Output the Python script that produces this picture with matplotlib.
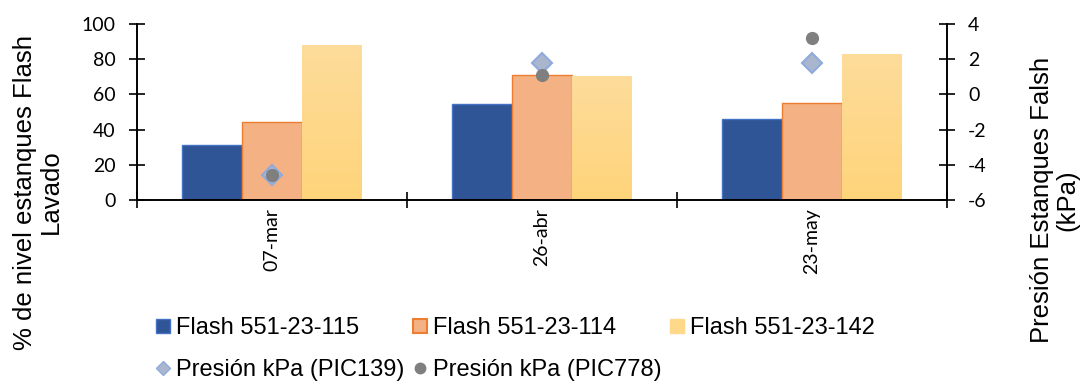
import numpy as np
import matplotlib
matplotlib.use("Agg")
import matplotlib.pyplot as plt
from matplotlib.lines import Line2D
from matplotlib.colors import LinearSegmentedColormap

plt.rcParams["axes.unicode_minus"] = False

# Data
fechas = ["07-mar", "26-abr", "23-may"]
flash_115 = [31, 54.5, 46]
flash_114 = [44.5, 71, 55]
flash_142 = [88, 70.5, 83]
pic139 = [-4.6, 1.8, 1.8]
pic778 = [-4.6, 1.1, 3.2]

series_names = ["Flash 551-23-115", "Flash 551-23-114", "Flash 551-23-142"]
pressure_names = ["Presión kPa (PIC139)", "Presión kPa (PIC778)"]

BLUE = "#2F5597"
BLUE_EDGE = "#4472C4"
ORANGE = "#F4B183"
ORANGE_EDGE = "#ED7D31"
YELLOW_TOP = "#FDDC9B"
YELLOW_BOT = "#FFD47A"
DIAMOND_FACE = "#A9B6CE"
DIAMOND_EDGE = "#8FAADC"
GREY = "#7F7F7F"

TICK_FONT = "Lato"
TEXT_FONT = "Liberation Sans"

W, H = 1083, 381
fig = plt.figure(figsize=(W / 100, H / 100), dpi=100)
ax = fig.add_axes([137 / W, 1 - 200 / H, (946.7 - 137) / W, 176 / H])
ax2 = ax.twinx()

x = np.arange(len(fechas))
w = 0.222
b1 = ax.bar(x - w, flash_115, w, color=BLUE, edgecolor=BLUE_EDGE, linewidth=1.0, zorder=2)
b2 = ax.bar(x, flash_114, w, color=ORANGE, edgecolor=ORANGE_EDGE, linewidth=1.0, zorder=2)
b3 = ax.bar(x + w, flash_142, w, color=YELLOW_BOT, linewidth=0, zorder=2)

# vertical gradient on the third series
cmap = LinearSegmentedColormap.from_list("amarillo", [YELLOW_BOT, YELLOW_TOP])
grad = np.linspace(0, 1, 256).reshape(-1, 1)
for bar in b3:
    x0, y0 = bar.get_x(), bar.get_y()
    bw, bh = bar.get_width(), bar.get_height()
    im = ax.imshow(grad, cmap=cmap, origin="lower", aspect="auto",
                   extent=(x0, x0 + bw, y0, y0 + bh), zorder=2.1)
    im.set_clip_path(bar)

ax.set_xlim(-0.5, 2.5)
ax.set_ylim(0, 100)
ax2.set_ylim(-6, 4)

ax2.plot(x, pic139, linestyle="none", marker="D", markersize=10,
         markerfacecolor=DIAMOND_FACE, markeredgecolor=DIAMOND_EDGE,
         markeredgewidth=1.5, zorder=3)
ax2.plot(x, pic778, linestyle="none", marker="o", markersize=8.5,
         markerfacecolor=GREY, markeredgecolor=GREY, zorder=4)

# spines and ticks
for a in (ax, ax2):
    a.spines["top"].set_visible(False)
    for s in ("left", "right", "bottom"):
        a.spines[s].set_color("black")
        a.spines[s].set_linewidth(1.2)

ax.set_yticks(np.arange(0, 101, 20))
ax2.set_yticks(np.arange(-6, 5, 2))
for a in (ax, ax2):
    a.tick_params(axis="y", direction="inout", length=11, width=1.2,
                  labelsize=14, pad=10)
for lab in ax.get_yticklabels() + ax2.get_yticklabels():
    lab.set_fontfamily(TICK_FONT)

ax.set_xticks(x)
ax.set_xticklabels(fechas, rotation=90, fontsize=14, fontfamily=TICK_FONT)
ax.tick_params(axis="x", which="major", length=0, pad=6)
ax.set_xticks([-0.5, 0.5, 1.5, 2.5], minor=True)
ax.tick_params(axis="x", which="minor", direction="inout", length=11, width=1.2)

# axis titles
fig.text(38 / W, 1 - 192 / H, "% de nivel estanques Flash\nLavado",
         rotation=90, ha="center", va="center", fontsize=18.5,
         fontfamily=TEXT_FONT, multialignment="center", linespacing=1.1)
fig.text(1054.5 / W, 1 - 200 / H, "Presión Estanques Falsh\n(kPa)",
         rotation=90, ha="center", va="center", fontsize=18.5,
         fontfamily=TEXT_FONT, multialignment="center", linespacing=1.05)

# legend: bars in the first row, pressure markers in the second
h_115 = Line2D([], [], linestyle="none", marker="s", markersize=9.5,
               markerfacecolor=BLUE, markeredgecolor=BLUE_EDGE)
h_114 = Line2D([], [], linestyle="none", marker="s", markersize=9.5,
               markerfacecolor=ORANGE, markeredgecolor=ORANGE_EDGE, markeredgewidth=1.5)
h_142 = Line2D([], [], linestyle="none", marker="s", markersize=9.5,
               markerfacecolor="#FED98A", markeredgecolor="#FED98A")
h_139 = Line2D([], [], linestyle="none", marker="D", markersize=7.5,
               markerfacecolor=DIAMOND_FACE, markeredgecolor=DIAMOND_EDGE)
h_778 = Line2D([], [], linestyle="none", marker="o", markersize=7.5,
               markerfacecolor=GREY, markeredgecolor=GREY)
handles = [h_115, h_139, h_114, h_778, h_142]
labels = [series_names[0], pressure_names[0], series_names[1],
          pressure_names[1], series_names[2]]
fig.legend(handles, labels, ncol=3, loc="upper left",
           bbox_to_anchor=(157 / W, 1 - 317 / H),
           frameon=False, prop={"family": TEXT_FONT, "size": 17},
           handlelength=0.55, handletextpad=0.25, columnspacing=0.4,
           labelspacing=0.85, borderpad=0, borderaxespad=0)

fig.savefig("out.png", dpi=100)
